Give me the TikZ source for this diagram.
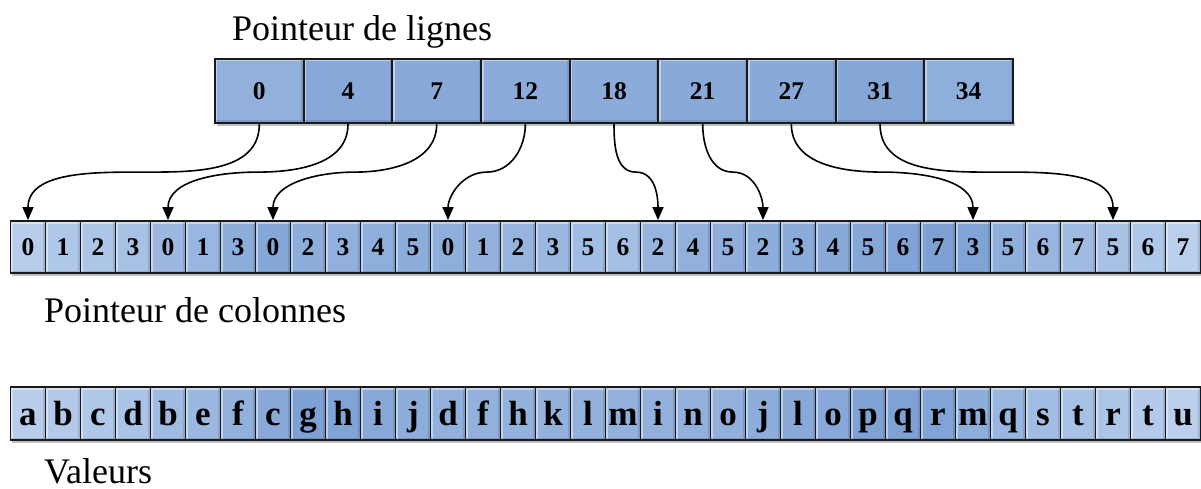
\documentclass[tikz,border=0pt]{standalone}
\usepackage{fontspec}
\setmainfont{Liberation Serif}
\usetikzlibrary{arrows.meta,calc}
\definecolor{cdark}{RGB}{118,155,209}
\definecolor{clight}{RGB}{194,214,240}
\definecolor{edgec}{RGB}{25,25,25}
\tikzset{
  bevel/.style={path picture={
      \draw[white,opacity=.45,line width=5pt]
        (path picture bounding box.south west) |- (path picture bounding box.north east);
      \draw[black,opacity=.12,line width=5pt]
        (path picture bounding box.south west) -| (path picture bounding box.north east);
  }},
  cellbase/.style={rectangle, draw=edgec, inner sep=0pt, bevel},
  topcell/.style={cellbase, line width=2.2pt, minimum width=88.67pt, minimum height=64pt,
    font=\fontsize{25.5}{25.5}\selectfont\bfseries, text height=17pt, text depth=0pt},
  colcell/.style={cellbase, line width=1.8pt, minimum width=35pt, minimum height=52pt,
    font=\fontsize{25.5}{25.5}\selectfont\bfseries, text height=17pt, text depth=0pt},
  valcell/.style={cellbase, line width=1.8pt, minimum width=35pt, minimum height=53pt,
    font=\fontsize{35}{35}\selectfont\bfseries, text height=23pt, text depth=0pt},
  lbl/.style={anchor=base west, inner sep=0pt, font=\fontsize{36}{40}\selectfont},
  link/.style={line width=1.6pt, -{Triangle[length=13pt,width=11pt]}},
}
\begin{document}
\begin{tikzpicture}[x=1pt,y=-1pt]
\useasboundingbox (0,0) rectangle (1201,489);
% labels
\node[lbl] (l1) at (232,41) {Pointeur de lignes};
\node[lbl] (l2) at (44,322) {Pointeur de colonnes};
\node[lbl, text depth=0pt] (l3) at (44,483) {Valeurs};
% shadows
\fill[black!25] (12,273) rectangle (1201,276);
\fill[black!25] (12,440) rectangle (1201,443);
\fill[black!25] (217,123) rectangle (1015,126);
% top row
\foreach \v/\p [count=\i from 0] in {0/35,4/22,7/25,12/28,18/28,21/25,27/25,31/20,34/32} {
  \node[topcell, fill=clight!\p!cdark] (r\i) at ({215+88.67*\i+44.33},91) {\v};
}
% column row
\foreach \v/\p [count=\i from 0] in {0/85,1/75,2/72,3/65,0/50,1/45,3/30,0/20,2/30,3/35,4/32,5/30,0/32,1/38,2/42,3/48,5/58,6/60,2/42,4/35,5/33,2/30,3/28,4/25,5/20,6/15,7/10,3/15,5/32,6/45,7/55,5/65,6/75,7/88} {
  \node[colcell, fill=clight!\p!cdark] (c\i) at ({10.5+35*\i+17.5},247) {\v};
}
% value row
\foreach \v/\p [count=\i from 0] in {a/85,b/80,c/75,d/68,b/55,e/50,f/35,c/25,g/10,h/15,i/22,j/30,d/35,f/35,h/38,k/38,l/38,m/35,i/35,n/35,o/35,j/30,l/25,o/22,p/12,q/12,r/15,m/30,q/45,s/58,t/65,r/72,t/80,u/88} {
  \node[valcell, fill=clight!\p!cdark] (v\i) at ({10.5+35*\i+17.5},413.5) {\v};
}
% connectors
\foreach \i/\k/\a/\b in {0/0/0/180,1/4/0/180,2/7/0/180,3/12/0/180,4/18/180/0,5/21/180/0,6/27/180/0,7/31/180/0} {
  \coordinate (m\i) at ($(r\i.south)!.5!(c\k.north)$);
  \draw[link] (r\i.south) to[out=-90,in=\a] (m\i) to[out=\b,in=90] (c\k.north);
}
\end{tikzpicture}
\end{document}
